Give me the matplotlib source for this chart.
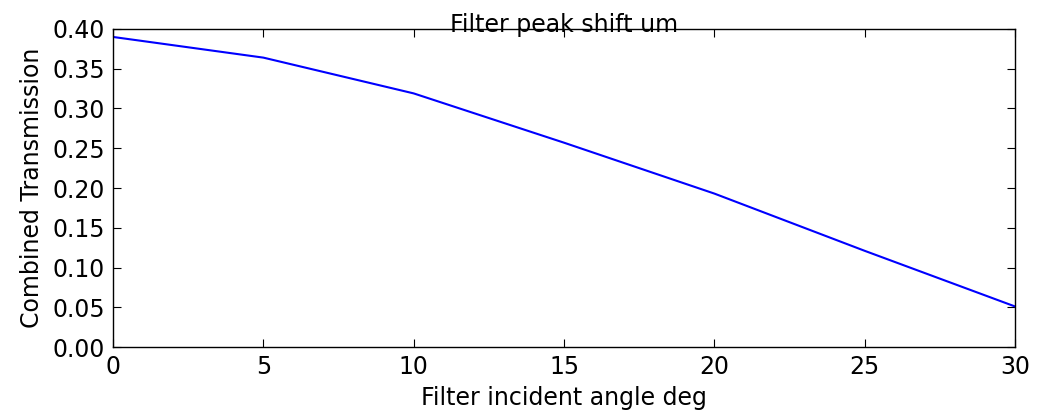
import matplotlib
matplotlib.use('Agg')
import matplotlib.pyplot as plt

# incident angle (deg) vs combined transmission
angle_deg = [0, 5, 10, 15, 20, 25, 30]
transmission = [0.390, 0.364, 0.319, 0.257, 0.193, 0.121, 0.051]

x_ticks = [0, 5, 10, 15, 20, 25, 30]
y_ticks = [0.00, 0.05, 0.10, 0.15, 0.20, 0.25, 0.30, 0.35, 0.40]

plt.rcParams['font.family'] = ['DejaVu Sans']

fig = plt.figure(figsize=(10.39, 4.15), dpi=100)
ax = fig.add_axes([113 / 1039, 1 - 347 / 415, (1015 - 113) / 1039, (347 - 29) / 415])

ax.plot(angle_deg, transmission, color='#0000ff', linewidth=1.5)

ax.set_xlim(0, 30)
ax.set_ylim(0, 0.40)
ax.set_xticks(x_ticks)
ax.set_yticks(y_ticks)
ax.set_yticklabels([f'{v:.2f}' for v in y_ticks])
ax.tick_params(direction='in', top=True, right=True, length=6, width=0.8,
               labelsize=17, pad=6)
for s in ax.spines.values():
    s.set_linewidth(1.0)

ax.set_xlabel('Filter incident angle deg', fontsize=17, labelpad=5)
ax.set_ylabel('Combined Transmission', fontsize=17, labelpad=6)
ax.text(0.5, 0.992, 'Filter peak shift um', transform=ax.transAxes,
        ha='center', va='baseline', fontsize=17)

fig.savefig('out.png', dpi=100)
